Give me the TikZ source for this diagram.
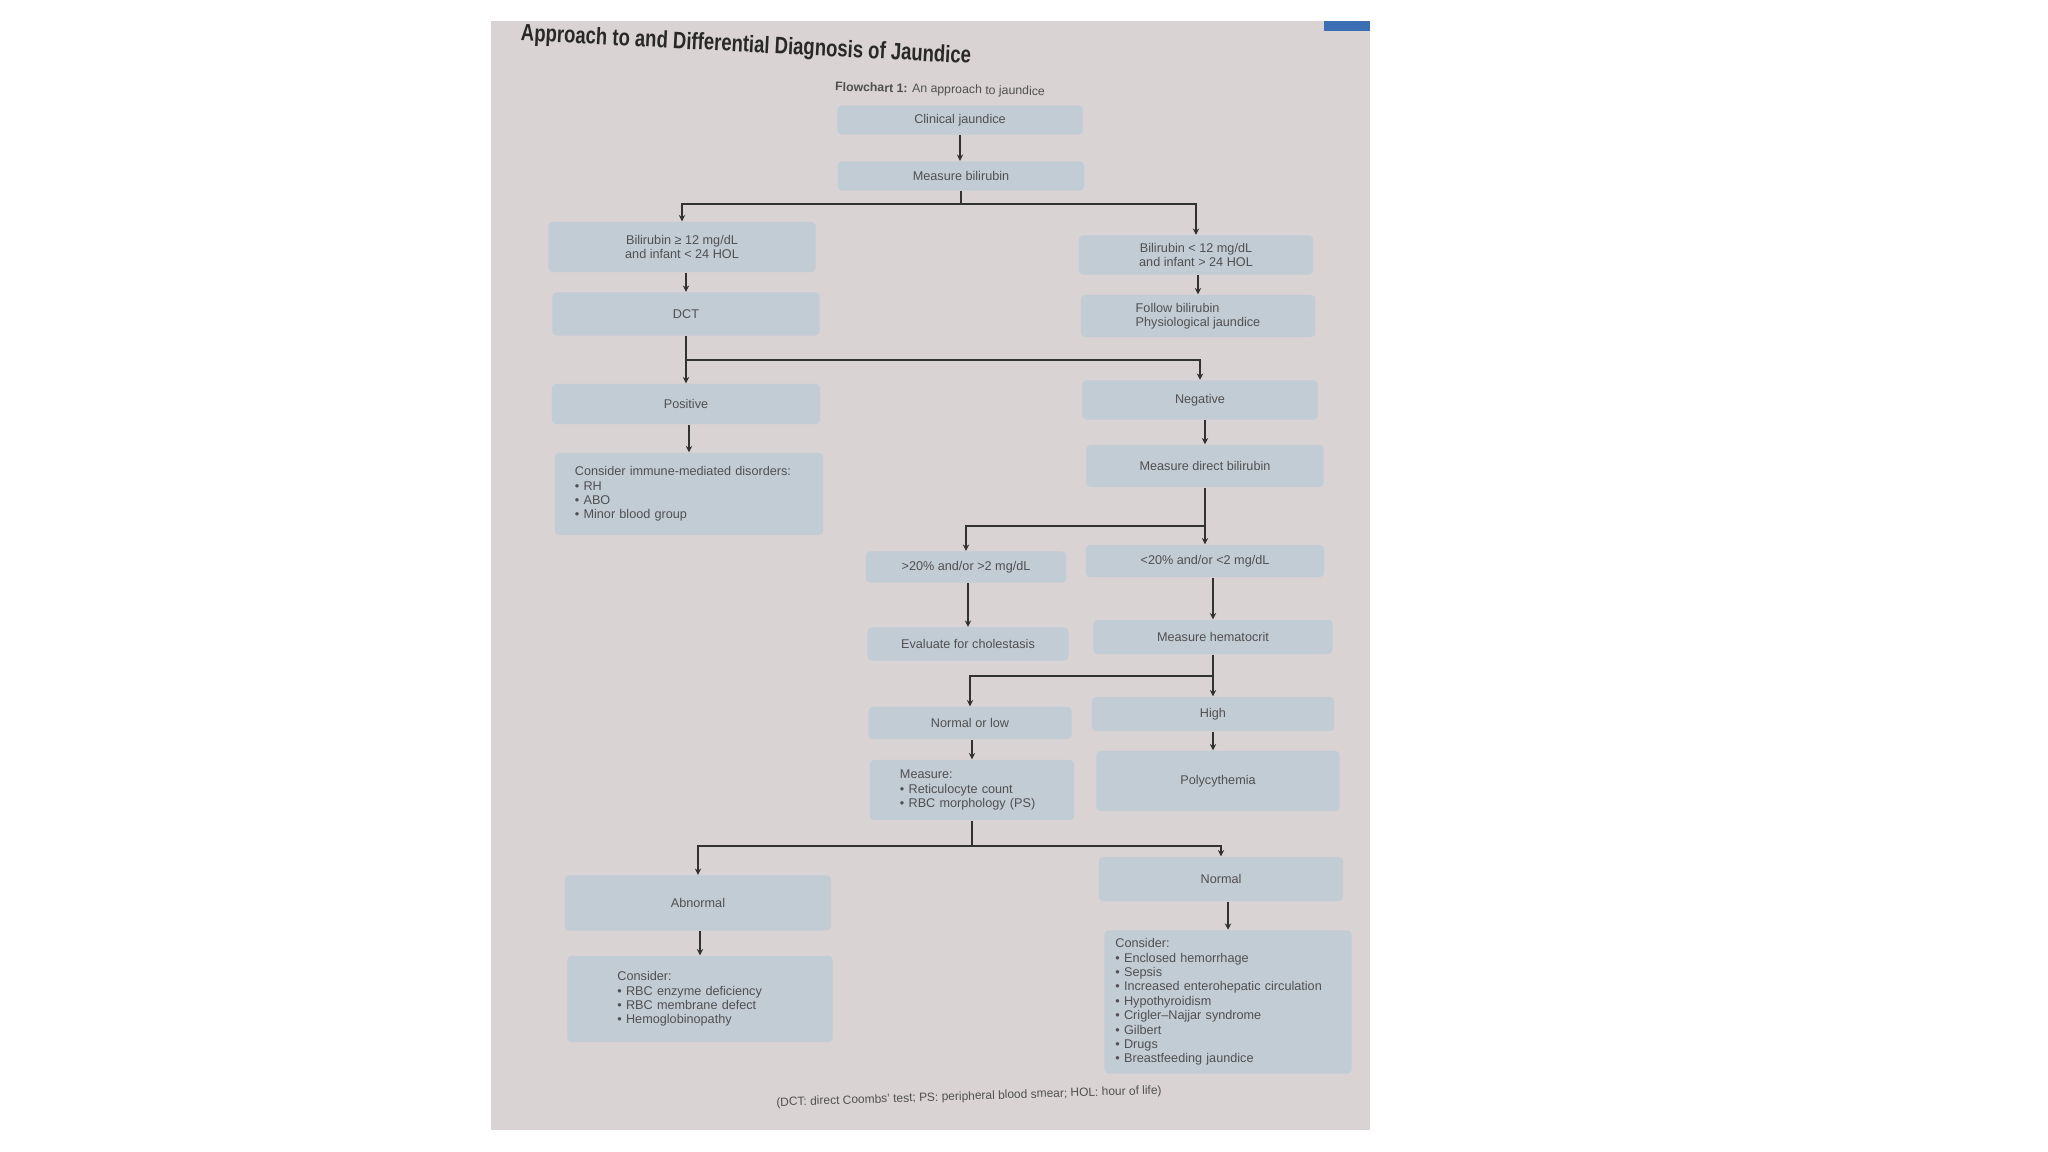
\documentclass[tikz,border=0pt]{standalone}
\usepackage{fontspec}
\setmainfont{Liberation Sans}
\usetikzlibrary{arrows.meta}
\definecolor{pagebg}{RGB}{217,212,211}
\definecolor{boxbg}{RGB}{194,204,213}
\definecolor{txtcol}{RGB}{80,80,82}
\definecolor{lncol}{RGB}{50,50,50}
\definecolor{tabcol}{RGB}{60,110,180}
\definecolor{titlecol}{RGB}{40,40,40}
\begin{document}
\begin{tikzpicture}[x=0.01cm,y=-0.01cm,
  box/.style={fill=boxbg, rounded corners=0.04cm, inner sep=0pt, text=txtcol,
    font=\fontsize{3.6pt}{4.1pt}\selectfont},
  listbox/.style={box, align=left, inner ysep=0pt},
  arr/.style={draw=lncol, line width=0.4pt, -{Stealth[length=1.8pt,width=1.8pt]}},
  conn/.style={draw=lncol, line width=0.4pt}]
\useasboundingbox (0,0) rectangle (2048,1152);
\fill[white] (0,0) rectangle (2048,1152);
\fill[pagebg] (491,21) rectangle (1370,1130);
\fill[tabcol] (1324,21) rectangle (1370,31);

\node[rotate=-2.9, xscale=0.78, text=titlecol, inner sep=0pt,
  font=\bfseries\fontsize{6.75pt}{8pt}\selectfont] (title) at (746,46)
  {Approach to and Differential Diagnosis of Jaundice};
\node[rotate=-1.2, text=txtcol, inner sep=0pt, font=\fontsize{3.5pt}{4pt}\selectfont]
  (caption) at (940,90) {\textbf{Flowchart 1:} An approach to jaundice};

\node[box, minimum width=2.45cm, minimum height=0.29cm] (clin) at (960,120) {Clinical jaundice};
\node[box, minimum width=2.46cm, minimum height=0.29cm] (meas) at (961,176) {Measure bilirubin};
\node[box, minimum width=2.67cm, minimum height=0.50cm, align=center] (bilge) at (682,247)
  {Bilirubin ≥ 12 mg/dL\\and infant < 24 HOL};
\node[box, minimum width=2.34cm, minimum height=0.39cm, align=center] (billt) at (1196,255)
  {Bilirubin < 12 mg/dL\\and infant > 24 HOL};
\node[box, minimum width=2.67cm, minimum height=0.43cm] (dct) at (686,314) {DCT};
\node[box, minimum width=2.34cm, minimum height=0.42cm, align=left] (follow) at (1198,316)
  {Follow bilirubin\\Physiological jaundice};
\node[box, minimum width=2.68cm, minimum height=0.40cm] (pos) at (686,404) {Positive};
\node[box, minimum width=2.35cm, minimum height=0.39cm] (neg) at (1200,400) {Negative};
\node[listbox, text width=2.28cm, inner xsep=0.2cm, minimum height=0.82cm] (immune) at (689,494)
  {Consider immune-mediated disorders:\\• RH\\• ABO\\• Minor blood group};
\node[box, minimum width=2.37cm, minimum height=0.42cm] (direct) at (1205,466) {Measure direct bilirubin};
\node[box, minimum width=2.00cm, minimum height=0.31cm] (gt20) at (966,567) {>20\% and/or >2 mg/dL};
\node[box, minimum width=2.38cm, minimum height=0.32cm] (lt20) at (1205,561) {<20\% and/or <2 mg/dL};
\node[box, minimum width=2.01cm, minimum height=0.33cm] (chol) at (968,644) {Evaluate for cholestasis};
\node[box, minimum width=2.39cm, minimum height=0.34cm] (hct) at (1213,637) {Measure hematocrit};
\node[box, minimum width=2.03cm, minimum height=0.32cm] (nol) at (970,723) {Normal or low};
\node[box, minimum width=2.42cm, minimum height=0.34cm] (high) at (1213,714) {High};
\node[listbox, text width=1.44cm, inner xsep=0.30cm, minimum height=0.60cm] (retic) at (972,790)
  {Measure:\\• Reticulocyte count\\• RBC morphology (PS)};
\node[box, minimum width=2.43cm, minimum height=0.60cm] (poly) at (1218,781) {Polycythemia};
\node[box, minimum width=2.66cm, minimum height=0.55cm] (abn) at (698,903) {Abnormal};
\node[box, minimum width=2.44cm, minimum height=0.44cm] (normal) at (1221,879) {Normal};
\node[listbox, text width=1.65cm, inner xsep=0.50cm, minimum height=0.86cm] (rbc) at (700,999)
  {Consider:\\• RBC enzyme deficiency\\• RBC membrane defect\\• Hemoglobinopathy};
\node[listbox, text width=2.25cm, inner xsep=0.11cm, minimum height=1.43cm] (encl) at (1228,1002)
  {Consider:\\• Enclosed hemorrhage\\• Sepsis\\• Increased enterohepatic circulation\\• Hypothyroidism\\• Crigler–Najjar syndrome\\• Gilbert\\• Drugs\\• Breastfeeding jaundice};

\node[rotate=1.8, text=txtcol, inner sep=0pt, font=\fontsize{3.4pt}{4pt}\selectfont]
  (footer) at (969,1097) {(DCT: direct Coombs' test; PS: peripheral blood smear; HOL: hour of life)};

% connectors
\draw[arr] (clin.south) -- (clin.south |- meas.north);
\coordinate (j1) at (961,204);
\draw[conn] (meas.south) -- (j1);
\draw[arr] (j1) -| (bilge.north);
\draw[arr] (j1) -| (billt.north);
\draw[arr] (dct.north |- bilge.south) -- (dct.north);
\draw[arr] (follow.north |- billt.south) -- (follow.north);
\coordinate (j2) at (686,360);
\draw[arr] (dct.south) -- (pos.north);
\draw[arr] (j2) -| (neg.north);
\draw[arr] (immune.north |- pos.south) -- (immune.north);
\draw[arr] (direct.north |- neg.south) -- (direct.north);
\coordinate (j3) at (1205,526);
\draw[arr] (direct.south) -- (lt20.north);
\draw[arr] (j3) -| (gt20.north);
\draw[arr] (chol.north |- gt20.south) -- (chol.north);
\draw[arr] (hct.north |- lt20.south) -- (hct.north);
\coordinate (j4) at (1213,676);
\draw[arr] (hct.south) -- (high.north);
\draw[arr] (j4) -| (nol.north);
\draw[arr] (retic.north |- nol.south) -- (retic.north);
\draw[arr] (high.south) -- (high.south |- poly.north);
\coordinate (j5) at (972,846);
\draw[conn] (retic.south) -- (j5);
\draw[arr] (j5) -| (abn.north);
\draw[arr] (j5) -| (normal.north);
\draw[arr] (rbc.north |- abn.south) -- (rbc.north);
\draw[arr] (encl.north |- normal.south) -- (encl.north);
\end{tikzpicture}
\end{document}
